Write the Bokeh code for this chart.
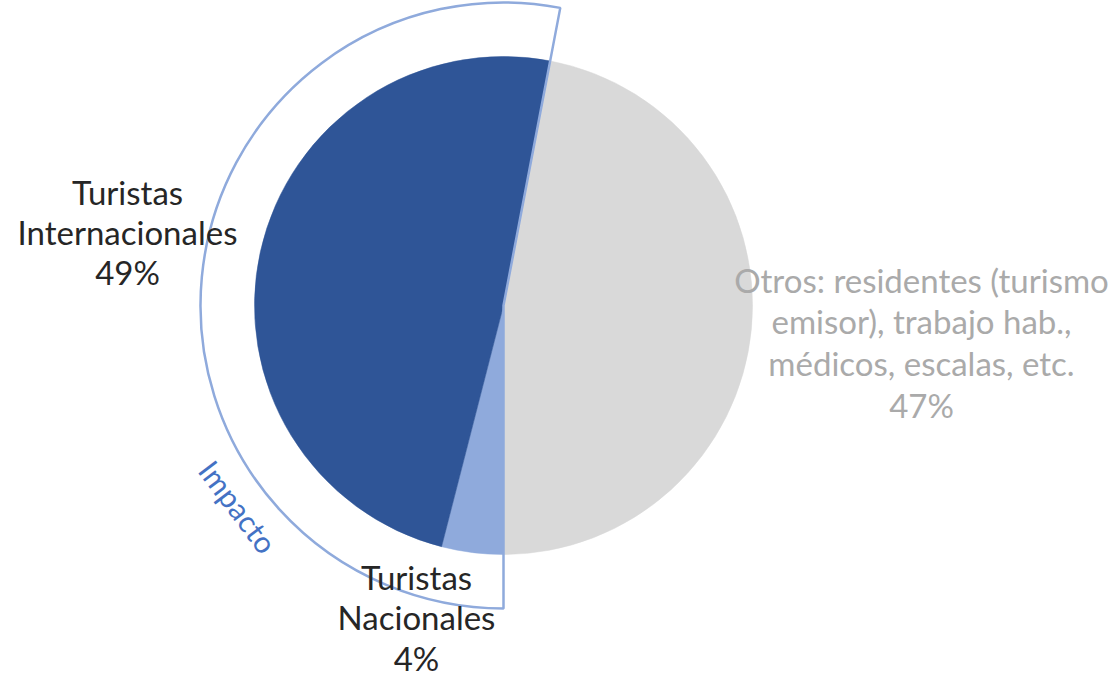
import math
from bokeh.plotting import figure
from bokeh.models import Range1d, ColumnDataSource
from bokeh.core.properties import value
from bokeh.embed import file_html
from bokeh.resources import INLINE

# ---------------- data ----------------
categories = ["Otros", "Turistas Nacionales", "Turistas Internacionales"]
shares = [47, 4, 49]
label_lines = [
    ["Otros: residentes (turismo", "emisor), trabajo hab.,", "médicos, escalas, etc."],
    ["Turistas", "Nacionales"],
    ["Turistas", "Internacionales"],
]
highlight_text = "Impacto"
highlight_members = ["Turistas Nacionales", "Turistas Internacionales"]

# ---------------- style / layout ----------------
slice_colors = ["#d9d9d9", "#8faadc", "#2f5597"]
label_colors = ["#aaaaaa", "#262626", "#262626"]
label_sizes = ["33px", "33px", "33px"]
FONT = "Lato"
W, H = 1117, 678
CX, CY = 503, 305          # pie centre (page pixels)
R = 249                    # pie radius
R_OUT = 303                # highlight outline radius
label_pos = [(921, 279, 41.7), (416, 576, 40.5), (127, 191, 40)]  # x centre, first baseline, line step
impacto_pos = (238, 506)
impacto_angle = -53

def Y(ypix):
    return H - ypix

p = figure(width=W, height=H, x_range=Range1d(0, W), y_range=Range1d(0, H),
           output_backend="svg", toolbar_location=None, min_border=0,
           x_axis_location=None, y_axis_location=None)
p.grid.visible = False
p.outline_line_color = None
p.background_fill_color = "white"
p.border_fill_color = "white"

# pie angles: clockwise from top; first slice ends at the bottom
total = sum(shares)
start_cw = 180 - shares[0] / total * 360
starts, ends = [], []
cw = start_cw
for v in shares:
    a0 = cw
    a1 = cw + v / total * 360
    starts.append(math.radians(90 - a0))
    ends.append(math.radians(90 - a1))
    cw = a1

src = ColumnDataSource(dict(x=[CX] * len(shares), y=[Y(CY)] * len(shares),
                            start=starts, end=ends, color=slice_colors, cat=categories))
p.wedge(x="x", y="y", radius=R, start_angle="start", end_angle="end",
        direction="clock", fill_color="color", line_color="color", line_width=0.5, source=src)

# highlight outline covering the members
idx = [categories.index(m) for m in highlight_members]
h_start_cw = 180
h_end_cw = 180 + sum(shares[i] for i in idx) / total * 360
p.wedge(x=[CX], y=[Y(CY)], radius=R_OUT,
        start_angle=[math.radians(90 - h_end_cw + 360)], end_angle=[math.radians(90 - h_start_cw + 360)],
        direction="anticlock", fill_color=None, line_color="#8faadc", line_width=2.5)

# labels
for i, cat in enumerate(categories):
    lines = label_lines[i] + [f"{shares[i]}%"]
    x0, b0, step = label_pos[i]
    p.text(x=[x0] * len(lines), y=[Y(b0 + k * step) for k in range(len(lines))], text=lines,
           text_font=value(FONT), text_font_size=value(label_sizes[i]), text_align="center",
           text_baseline="alphabetic", text_color=label_colors[i])

p.text(x=[impacto_pos[0]], y=[Y(impacto_pos[1])], text=[highlight_text],
       angle=[math.radians(impacto_angle)], text_font=value(FONT), text_font_size=value("30px"),
       text_align="center", text_baseline="middle", text_color="#4472c4")

open("out.html", "w").write(file_html(p, INLINE))
